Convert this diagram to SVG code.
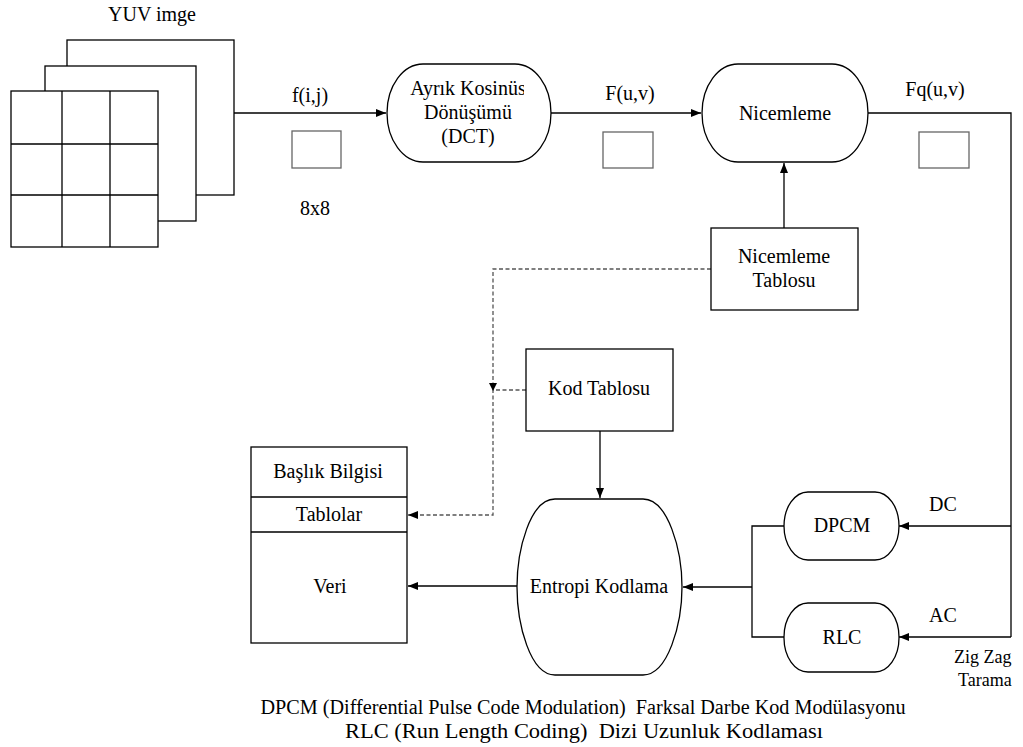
<svg xmlns="http://www.w3.org/2000/svg" width="1023" height="747" viewBox="0 0 1023 747" font-family="'Liberation Serif', 'Times New Roman', Times, serif" font-size="20">
  <style>
    .ln { fill: none; stroke: #000; stroke-width: 1.3; }
    .dash { fill: none; stroke: #555; stroke-width: 1.3; stroke-dasharray: 4 2.5; }
    .box { fill: #fff; stroke: #000; stroke-width: 1.3; }
    .blk { fill: #fff; stroke: #666; stroke-width: 1.3; }
    .t { font-family: 'Liberation Serif', 'Times New Roman', Times, serif; fill: #000; }
    .c { text-anchor: middle; }
  </style>
  <defs>
    <marker id="arr" markerUnits="userSpaceOnUse" markerWidth="11" markerHeight="9" refX="10" refY="4" orient="auto">
      <path d="M0,0 L10,4 L0,8 Z" fill="#000"/>
    </marker>
    <clipPath id="dctClip"><rect x="387" y="64" width="137" height="98"/></clipPath>
    <clipPath id="edgeClip"><rect x="0" y="0" width="1015" height="747"/></clipPath>
  </defs>

  <rect width="1023" height="747" fill="#fff"/>

  <!-- image planes -->
  <g id="yuv">
    <text class="t c" x="152" y="21">YUV imge</text>
    <rect class="box" x="67" y="40" width="167" height="155"/>
    <rect class="box" x="45" y="66" width="151" height="155"/>
    <rect class="box" x="11" y="91" width="147" height="156"/>
    <path class="ln" d="M62,91 V247 M110,91 V247 M11,144 H158 M11,195 H158"/>
  </g>

  <!-- connectors -->
  <g id="connectors">
    <path class="ln" d="M234,113 H386" marker-end="url(#arr)"/>
    <path class="ln" d="M551,113 H701" marker-end="url(#arr)"/>
    <path class="ln" d="M868,113 H1011 V637"/>
    <path class="ln" d="M1011,526 H899" marker-end="url(#arr)"/>
    <path class="ln" d="M1011,637 H899" marker-end="url(#arr)"/>
    <path class="ln" d="M784,526 H752 V637 H784"/>
    <path class="ln" d="M752,587 H683" marker-end="url(#arr)"/>
    <path class="ln" d="M517,586 H408" marker-end="url(#arr)"/>
    <path class="ln" d="M600,431 V498" marker-end="url(#arr)"/>
    <path class="ln" d="M784,228 V163" marker-end="url(#arr)"/>
    <path class="dash" d="M711,269 H493 V515 H408" marker-end="url(#arr)"/>
    <path class="dash" d="M526,390 H493"/>
    <path d="M489,383 L497,383 L493,391 Z" fill="#000"/>
  </g>

  <!-- edge labels and block symbols -->
  <g id="labels">
    <text class="t c" x="310" y="102">f(i,j)</text>
    <rect class="blk" x="292" y="131" width="49" height="37"/>
    <text class="t c" x="315" y="215">8x8</text>
    <text class="t c" x="630" y="100">F(u,v)</text>
    <rect class="blk" x="603" y="132" width="50" height="36"/>
    <text class="t c" x="935" y="96">Fq(u,v)</text>
    <rect class="blk" x="919" y="132" width="50" height="36"/>
    <text class="t c" x="943" y="511">DC</text>
    <text class="t c" x="943" y="622">AC</text>
    <g clip-path="url(#edgeClip)" font-size="18">
      <text class="t" x="954" y="663">Zig Zag</text>
      <text class="t" x="958" y="686">Tarama</text>
    </g>
  </g>

  <g id="dct">
    <rect class="box" x="387" y="64" width="164" height="98" rx="36" ry="49"/>
    <g clip-path="url(#dctClip)">
      <text class="t c" x="468" y="95">Ayrık Kosinüs</text>
    </g>
    <text class="t c" x="468" y="119">Dönüşümü</text>
    <text class="t c" x="468" y="143">(DCT)</text>
  </g>

  <g id="nicemleme">
    <rect class="box" x="702" y="64" width="166" height="98" rx="36" ry="49"/>
    <text class="t c" x="785" y="120">Nicemleme</text>
  </g>

  <g id="nicemleme-tablosu">
    <rect class="box" x="711" y="228" width="147" height="82"/>
    <text class="t c" x="784" y="263">Nicemleme</text>
    <text class="t c" x="784" y="287">Tablosu</text>
  </g>

  <g id="kod-tablosu">
    <rect class="box" x="526" y="349" width="147" height="82"/>
    <text class="t c" x="599" y="395">Kod Tablosu</text>
  </g>

  <g id="entropi">
    <path class="box" d="M555,499 H643 C668,499 682,550 682,587 C682,624 668,675 643,675 H555 C530,675 517,624 517,587 C517,550 530,499 555,499 Z"/>
    <text class="t c" x="599" y="593">Entropi Kodlama</text>
  </g>

  <g id="dpcm">
    <rect class="box" x="784" y="492" width="115" height="68" rx="24" ry="34"/>
    <text class="t c" x="842" y="532">DPCM</text>
  </g>

  <g id="rlc">
    <rect class="box" x="784" y="603" width="115" height="69" rx="24" ry="34"/>
    <text class="t c" x="842" y="644">RLC</text>
  </g>

  <g id="cikti">
    <rect class="box" x="251" y="447" width="156" height="196"/>
    <path class="ln" d="M251,497 H407 M251,532 H407"/>
    <text class="t c" x="328" y="478">Başlık Bilgisi</text>
    <text class="t c" x="329" y="521">Tablolar</text>
    <text class="t c" x="330" y="593">Veri</text>
  </g>

  <g id="aciklama">
    <text class="t c" x="583" y="714" font-size="20" textLength="645" lengthAdjust="spacingAndGlyphs">DPCM (Differential Pulse Code Modulation)&#160; Farksal Darbe Kod Modülasyonu</text>
    <text class="t c" x="584" y="738" font-size="20" textLength="478" lengthAdjust="spacingAndGlyphs">RLC (Run Length Coding)&#160; Dizi Uzunluk Kodlaması</text>
  </g>
</svg>
